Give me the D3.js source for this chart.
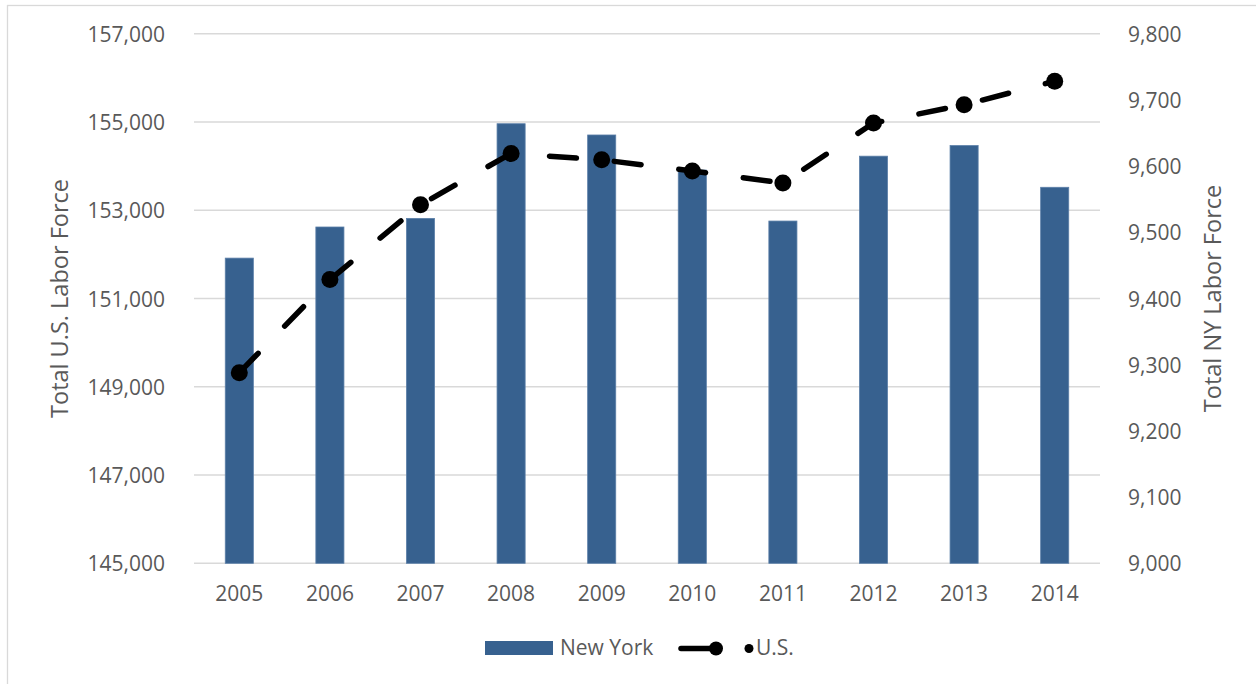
<!DOCTYPE html>
<html>
<head>
<meta charset="utf-8">
<script src="https://cdn.jsdelivr.net/npm/d3@7"></script>
<style>
  body { margin: 0; background: #fff; }
  svg text { font-family: "Open Sans", sans-serif; fill: #595959; }
</style>
</head>
<body>
<svg id="chart" width="1256" height="684"></svg>
<script>
// data
const years = ['2005', '2006', '2007', '2008', '2009', '2010', '2011', '2012', '2013', '2014'];
const nyLabor = [9461, 9508, 9521, 9664, 9647, 9594, 9517, 9615, 9631, 9568];
const usLabor = [149320, 151428, 153124, 154287, 154142, 153889, 153617, 154975, 155389, 155922];
const leftTicks = [145000, 147000, 149000, 151000, 153000, 155000, 157000];
const rightTicks = [9000, 9100, 9200, 9300, 9400, 9500, 9600, 9700, 9800];

const plot = {left: 194, right: 1100, top: 33.7, bottom: 563.3};
const fmt = d3.format(',');

const svg = d3.select('#chart');

// outer frame
svg.append('rect')
  .attr('x', 7.5).attr('y', 5.5)
  .attr('width', 1260).attr('height', 690)
  .attr('fill', 'none')
  .attr('stroke', '#d9d9d9')
  .attr('stroke-width', 1.3);

const x = d3.scaleBand()
  .domain(years)
  .range([plot.left, plot.right])
  .paddingInner(0.69)
  .paddingOuter(0.345);

const yLeft = d3.scaleLinear().domain([145000, 157000]).range([plot.bottom, plot.top]);
const yRight = d3.scaleLinear().domain([9000, 9800]).range([plot.bottom, plot.top]);

// gridlines
svg.append('g')
  .selectAll('line')
  .data(leftTicks)
  .enter()
  .append('line')
    .attr('x1', plot.left).attr('x2', plot.right)
    .attr('y1', d => yLeft(d)).attr('y2', d => yLeft(d))
    .attr('stroke', '#d9d9d9')
    .attr('stroke-width', 1.5);

// left axis
const leftAxis = svg.append('g')
  .attr('transform', `translate(${plot.left},0)`)
  .call(d3.axisLeft(yLeft).tickValues(leftTicks).tickFormat(fmt).tickSize(0).tickPadding(29));
leftAxis.select('.domain').remove();
leftAxis.selectAll('text').style('font-size', '21px').attr('dy', '0.36em');

// right axis
const rightAxis = svg.append('g')
  .attr('transform', `translate(${plot.right},0)`)
  .call(d3.axisRight(yRight).tickValues(rightTicks).tickFormat(fmt).tickSize(0).tickPadding(28));
rightAxis.select('.domain').remove();
rightAxis.selectAll('text').style('font-size', '21px').attr('dy', '0.36em');

// bottom axis
const bottomAxis = svg.append('g')
  .attr('transform', `translate(0,${plot.bottom})`)
  .call(d3.axisBottom(x).tickSize(0).tickPadding(23));
bottomAxis.select('.domain').remove();
bottomAxis.selectAll('text').style('font-size', '21px').attr('dy', '0.71em');

// bars (NY, right axis)
svg.append('g')
  .selectAll('rect')
  .data(nyLabor)
  .enter()
  .append('rect')
    .attr('x', (d, i) => x(years[i]))
    .attr('width', x.bandwidth())
    .attr('y', d => yRight(d))
    .attr('height', d => plot.bottom - yRight(d))
    .attr('fill', '#37618f')
    .attr('stroke', '#5b7fa8')
    .attr('stroke-width', 0.8);

// US line (left axis)
const line = d3.line()
  .x((d, i) => x(years[i]) + x.bandwidth() / 2)
  .y(d => yLeft(d));

svg.append('path')
  .datum(usLabor)
  .attr('d', line)
  .attr('fill', 'none')
  .attr('stroke', '#000')
  .attr('stroke-width', 5.5)
  .attr('stroke-linecap', 'round')
  .attr('stroke-dasharray', '27,38');

svg.append('g')
  .selectAll('circle')
  .data(usLabor)
  .enter()
  .append('circle')
    .attr('cx', (d, i) => x(years[i]) + x.bandwidth() / 2)
    .attr('cy', d => yLeft(d))
    .attr('r', 8.5)
    .attr('fill', '#000');

// axis titles
svg.append('text')
  .attr('transform', `translate(68,${(plot.top + plot.bottom) / 2}) rotate(-90)`)
  .attr('text-anchor', 'middle')
  .style('font-size', '23.5px')
  .text('Total U.S. Labor Force');

svg.append('text')
  .attr('transform', `translate(1221,${(plot.top + plot.bottom) / 2}) rotate(-90)`)
  .attr('text-anchor', 'middle')
  .style('font-size', '23.5px')
  .text('Total NY Labor Force');

// legend
const legend = svg.append('g');
legend.append('rect')
  .attr('x', 485).attr('y', 641)
  .attr('width', 68).attr('height', 14)
  .attr('fill', '#37618f');
legend.append('text')
  .attr('x', 560).attr('y', 655)
  .style('font-size', '21px')
  .text('New York');
legend.append('line')
  .attr('x1', 681).attr('x2', 714)
  .attr('y1', 648.5).attr('y2', 648.5)
  .attr('stroke', '#000')
  .attr('stroke-width', 5.5)
  .attr('stroke-linecap', 'round');
legend.append('circle')
  .attr('cx', 716).attr('cy', 648.5).attr('r', 7)
  .attr('fill', '#000');
legend.append('circle')
  .attr('cx', 749).attr('cy', 648.5).attr('r', 4.5)
  .attr('fill', '#000');
legend.append('text')
  .attr('x', 756).attr('y', 655)
  .style('font-size', '21px')
  .text('U.S.');
</script>
</body>
</html>
